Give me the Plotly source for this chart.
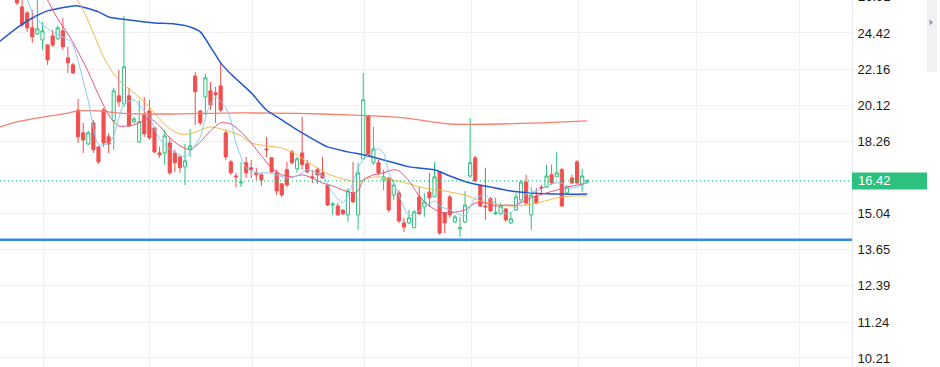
import numpy as np
import plotly.graph_objects as go

# ---------------- data ----------------
opens = [27.26, 26.19, 25.77, 24.76, 24.36, 23.97, 23.65, 24.23, 24.04, 24.56,
         22.84, 22.42, 19.86, 18.68, 18.13, 19.19, 17.99, 19.86, 18.48, 19.29,
         20.63, 20.19, 20.63, 19.24, 18.23, 19.60, 19.81, 18.93, 17.70, 17.70,
         18.18, 17.70, 17.51, 17.05, 17.89, 21.76, 19.81, 20.57, 20.91, 20.80,
         21.19, 18.68, 17.28, 16.64, 16.33, 17.24, 17.01, 16.78, 16.69, 17.89,
         17.47, 16.78, 16.29, 16.92, 17.75, 16.96, 17.70, 17.19, 16.60, 16.92,
         16.78, 16.24, 15.39, 15.35, 15.19, 14.99, 15.90, 14.99, 17.42, 19.55,
         17.24, 17.24, 16.46, 16.55, 15.81, 15.90, 14.67, 14.67, 14.48, 15.73,
         15.31, 15.94, 15.73, 16.82, 15.07, 15.73, 14.71, 14.44, 14.71, 16.64,
         17.47, 16.24, 15.35, 15.65, 15.03, 15.03, 15.23, 14.67, 15.19, 15.60,
         16.37, 14.99, 15.77, 16.15, 16.15, 16.69, 16.60, 16.92, 15.90, 16.55,
         17.28, 16.24, 16.37]
highs = [27.55, 26.68, 25.91, 25.98, 26.90, 25.15, 23.68, 24.63, 24.89, 25.42,
         23.53, 22.54, 20.46, 19.19, 18.78, 19.34, 18.00, 19.97, 18.68, 21.08,
         22.12, 25.56, 21.08, 19.50, 20.41, 20.57, 20.41, 18.95, 17.99, 18.83,
         18.43, 17.85, 17.56, 18.13, 18.88, 22.00, 19.86, 21.88, 21.41, 21.13,
         22.60, 18.83, 17.37, 16.78, 17.28, 17.51, 17.37, 17.01, 16.78, 18.48,
         17.51, 16.92, 16.33, 17.28, 17.85, 17.51, 19.50, 17.37, 16.92, 17.01,
         17.51, 16.25, 15.52, 15.48, 15.20, 16.11, 17.28, 17.24, 21.94, 19.60,
         18.98, 17.37, 16.92, 16.60, 16.46, 16.02, 14.87, 15.19, 15.19, 16.15,
         15.90, 16.78, 17.28, 16.85, 15.11, 15.81, 14.99, 14.91, 15.98, 19.45,
         17.56, 16.25, 17.01, 15.73, 15.69, 15.48, 15.27, 15.11, 15.90, 16.46,
         16.69, 16.15, 16.11, 16.24, 17.15, 17.15, 17.75, 17.01, 16.24, 16.69,
         17.37, 16.96, 16.50]
lows = [26.33, 24.83, 24.49, 23.78, 24.30, 23.33, 22.42, 23.53, 23.97, 23.33,
        21.94, 21.88, 18.18, 17.70, 18.08, 17.70, 17.19, 17.99, 17.70, 17.85,
        20.03, 20.03, 18.98, 19.14, 18.18, 18.48, 18.33, 17.70, 17.47, 17.15,
        16.69, 16.82, 16.78, 16.24, 17.51, 19.08, 19.08, 19.60, 19.86, 19.19,
        19.76, 17.37, 16.69, 16.15, 16.15, 16.55, 16.55, 16.46, 16.20, 17.51,
        16.78, 15.81, 15.73, 16.15, 17.15, 16.78, 16.92, 16.78, 16.33, 16.29,
        16.51, 15.35, 14.99, 14.95, 14.99, 14.71, 15.48, 14.40, 17.40, 17.51,
        17.15, 16.69, 16.02, 15.11, 15.60, 14.67, 14.32, 14.63, 14.48, 14.99,
        14.91, 15.31, 15.73, 14.21, 14.28, 14.87, 14.67, 14.13, 14.67, 16.55,
        16.37, 15.31, 14.79, 15.11, 14.99, 14.99, 14.71, 14.63, 15.15, 15.52,
        15.39, 14.40, 15.43, 15.81, 16.11, 16.24, 16.60, 15.31, 15.85, 16.29,
        16.29, 15.94, 16.33]
closes = [26.47, 24.96, 24.76, 24.17, 24.69, 24.56, 22.72, 23.65, 24.76, 23.53,
          22.54, 21.94, 18.48, 18.33, 18.68, 17.85, 17.28, 18.18, 18.13, 20.91,
          20.30, 22.30, 19.03, 19.39, 19.24, 18.63, 18.43, 17.75, 17.61, 18.53,
          16.78, 17.24, 17.01, 17.33, 18.04, 20.86, 19.19, 21.65, 20.13, 20.69,
          19.86, 17.51, 16.78, 16.60, 16.37, 16.78, 16.92, 16.69, 16.46, 17.85,
          16.82, 15.98, 15.81, 16.24, 17.24, 17.42, 17.15, 16.82, 16.55, 16.69,
          16.55, 15.39, 15.43, 14.99, 15.03, 15.98, 15.52, 16.78, 20.41, 17.56,
          17.89, 16.78, 16.60, 15.19, 16.24, 14.75, 14.51, 14.87, 15.11, 15.03,
          15.52, 15.69, 16.60, 14.28, 14.67, 14.99, 14.91, 14.48, 15.39, 17.24,
          16.42, 15.35, 15.31, 15.15, 15.07, 15.35, 14.79, 14.83, 15.73, 16.37,
          15.48, 15.81, 15.48, 16.11, 16.64, 16.33, 16.78, 15.35, 16.15, 16.33,
          16.33, 16.64, 16.42]
bar_index = list(range(len(closes)))

ma5_idx = [1, 2, 3, 5, 7, 10, 11, 12, 14, 16, 18, 19, 21, 23, 24, 26, 28, 30, 33, 34,
           36, 37, 38, 39, 41, 42, 43, 45, 47, 49, 51, 53, 55, 57, 60, 62, 64, 65, 67,
           68, 69, 71, 72, 73, 75, 76, 77, 79, 82, 83, 85, 87, 88, 89, 90, 92, 93, 95,
           96, 97, 99, 100, 103, 105, 107, 108, 109, 111, 112]
ma5_val = [27.70, 26.75, 25.84, 24.96, 24.49, 23.97, 23.65, 22.66, 20.35, 18.09, 18.15,
           18.53, 20.19, 20.41, 20.13, 19.47, 18.38, 17.89, 17.51, 17.75, 18.48, 19.45,
           20.19, 20.57, 19.97, 19.34, 18.18, 17.01, 16.78, 16.78, 16.69, 16.55, 16.64,
           16.92, 16.64, 15.90, 15.48, 15.77, 17.01, 17.37, 17.61, 17.89, 17.70, 16.82,
           15.81, 15.31, 14.95, 15.15, 15.56, 15.35, 15.19, 14.99, 14.95, 15.31, 15.69,
           15.81, 15.60, 15.31, 15.03, 15.07, 15.60, 15.85, 16.06, 16.29, 16.33, 16.15,
           16.11, 16.24, 16.37]

ma10_idx = [5, 6, 8, 10, 12, 14, 16, 18, 20, 23, 25, 26, 28, 30, 32, 34, 36, 38, 40, 42,
            44, 46, 48, 50, 52, 54, 56, 58, 60, 62, 64, 66, 67, 68, 70, 72, 74, 75, 77,
            79, 81, 83, 85, 88, 90, 92, 94, 96, 98, 100, 102, 104, 106, 108, 110, 112]
ma10_val = [27.55, 26.68, 25.36, 24.36, 23.21, 22.00, 20.69, 19.60, 19.03, 19.08, 19.34,
            19.45, 19.03, 18.43, 18.04, 17.85, 18.23, 18.78, 19.19, 19.13, 18.73, 18.18,
            17.56, 17.01, 16.69, 16.60, 16.69, 16.55, 16.33, 16.20, 16.02, 15.90, 15.98,
            16.46, 16.69, 16.78, 16.92, 16.87, 16.42, 15.77, 15.35, 15.11, 15.07, 15.19,
            15.48, 15.48, 15.35, 15.39, 15.39, 15.60, 15.77, 15.90, 16.02, 16.15, 16.24,
            16.33]

ma20_idx = [11, 13, 15, 17, 19, 21, 23, 25, 26, 28, 30, 32, 34, 36, 38, 40, 42, 44, 46,
            49, 52, 55, 57, 59, 61, 64, 67, 69, 71, 74, 77, 80, 83, 85, 88, 91, 94, 97,
            100, 103, 106, 109, 112]
ma20_val = [27.19, 25.98, 24.42, 22.90, 21.88, 21.25, 20.80, 20.30, 20.03, 19.39, 18.88,
            18.63, 18.63, 18.83, 18.98, 18.88, 18.73, 18.53, 18.18, 18.04, 17.94, 17.61,
            17.28, 17.01, 16.73, 16.51, 16.37, 16.55, 16.60, 16.46, 16.29, 16.11, 16.02,
            15.94, 15.81, 15.56, 15.43, 15.35, 15.39, 15.52, 15.69, 15.77, 15.77]

ma60_idx = [-4, 0, 3, 6, 11, 12, 16, 18, 22, 27, 31, 34, 36, 38, 40, 42, 46, 49, 52, 56,
            61, 65, 68, 72, 77, 82, 85, 89, 93, 97, 101, 107, 112]
ma60_val = [23.72, 24.76, 25.42, 25.91, 26.26, 26.26, 25.84, 25.49, 25.29, 25.09, 25.02,
            24.82, 24.49, 23.53, 22.54, 21.88, 20.80, 19.86, 19.34, 18.68, 17.99, 17.75,
            17.61, 17.37, 17.05, 16.92, 16.64, 16.33, 16.15, 15.98, 15.90, 15.85, 15.85]

ma250_idx = [-4, 0, 10, 12, 16, 20, 30, 40, 50, 60, 70, 76, 85, 95, 103, 112]
ma250_val = [18.93, 19.24, 19.70, 19.81, 19.81, 19.70, 19.65, 19.70, 19.70, 19.65, 19.55,
             19.45, 19.13, 19.13, 19.19, 19.29]

support_level = 14.02
last_price = 16.42
y_ticks = [10.21, 11.24, 12.39, 13.65, 15.04, 18.26, 20.12, 22.16, 24.42]
top_tick = "26.91"
grid_x = [5.11, 25.93, 46.16, 68.16, 89.18, 110.2, 133.37, 153.6]

# ---------------- styling ----------------
RED = "#F14F4F"
GREEN = "#2CC17E"
X_RANGE = [-3.34, 164.0]
Y_RANGE = [np.log10(9.966), np.log10(26.68)]
W, H = 940, 367
PLOT_W = 852
FONT = "Liberation Sans, Arial, sans-serif"

fig = go.Figure()

fig.add_trace(go.Candlestick(
    x=bar_index, open=opens, high=highs, low=lows, close=closes,
    increasing=dict(line=dict(color=GREEN, width=1), fillcolor="#FFFFFF"),
    decreasing=dict(line=dict(color=RED, width=1), fillcolor=RED),
    whiskerwidth=0, showlegend=False, hoverinfo="skip",
))

def ma_line(idx, val, color, width):
    fig.add_trace(go.Scatter(x=idx, y=val, mode="lines",
                             line=dict(color=color, width=width, shape="spline", smoothing=0.6),
                             showlegend=False, hoverinfo="skip"))

ma_line(ma250_idx, ma250_val, "#F67F6E", 1.3)
ma_line(ma60_idx, ma60_val, "#2358CF", 1.5)
ma_line(ma20_idx, ma20_val, "#F4B545", 1.0)
ma_line(ma10_idx, ma10_val, "#E8517C", 1.0)
ma_line(ma5_idx, ma5_val, "#86CBF5", 1.0)

fig.add_trace(go.Scatter(x=X_RANGE, y=[support_level, support_level], mode="lines",
                         line=dict(color="#2E8BE8", width=2.6), showlegend=False, hoverinfo="skip"))
fig.add_trace(go.Scatter(x=X_RANGE, y=[last_price, last_price], mode="lines",
                         line=dict(color=GREEN, width=1.3, dash="1px,3px"), showlegend=False,
                         hoverinfo="skip"))

def ypaper(p):
    return (np.log10(p) - Y_RANGE[0]) / (Y_RANGE[1] - Y_RANGE[0])

yc = ypaper(last_price)
half = 8.5 / H
shapes = [
    dict(type="rect", xref="paper", yref="paper", x0=1.0, x1=927 / PLOT_W,
         y0=yc - half, y1=yc + half, fillcolor=GREEN, line=dict(width=0), layer="above"),
    dict(type="rect", xref="paper", yref="paper", x0=927 / PLOT_W, x1=937 / PLOT_W,
         y0=1 - 72 / H, y1=1, fillcolor="#F1F1F4", line=dict(width=0)),
    dict(type="path", xref="paper", yref="paper",
         path=f"M {929.5 / PLOT_W},{1 - 19.5 / H} L {933 / PLOT_W},{1 - 22.5 / H} L {929.5 / PLOT_W},{1 - 25.5 / H} Z",
         fillcolor="#9A9AA0", line=dict(width=0)),
]

annotations = [
    dict(text=f"{last_price:.2f}", xref="paper", yref="paper", x=856 / PLOT_W, y=yc,
         xanchor="left", yanchor="middle", showarrow=False,
         font=dict(family=FONT, size=13, color="#FFFFFF")),
    dict(text=top_tick, xref="paper", yref="paper", x=856 / PLOT_W, y=1 + 3 / H,
         xanchor="left", yanchor="middle", showarrow=False,
         font=dict(family=FONT, size=13, color="#1A1A1A")),
]

fig.update_layout(
    width=W, height=H,
    margin=dict(l=0, r=W - PLOT_W, t=0, b=0),
    paper_bgcolor="#FFFFFF", plot_bgcolor="#FFFFFF",
    showlegend=False, boxgap=0.12,
    shapes=shapes, annotations=annotations,
    font=dict(family=FONT, size=13, color="#1A1A1A"),
)
fig.update_xaxes(
    range=X_RANGE, tickvals=grid_x, showticklabels=False, ticks="",
    showgrid=True, gridcolor="#F1F1F4", gridwidth=1, zeroline=False,
    rangeslider=dict(visible=False), showline=False, fixedrange=True,
)
fig.update_yaxes(
    type="log", range=Y_RANGE, side="right",
    tickvals=y_ticks, ticktext=[f"{v:.2f}" for v in y_ticks],
    showgrid=True, gridcolor="#F1F1F4", gridwidth=1, zeroline=False,
    showline=True, linecolor="#E9E9EE", linewidth=1,
    ticks="", ticklabelstandoff=2,
    tickfont=dict(family=FONT, size=13, color="#1A1A1A"),
    fixedrange=True,
)

fig.write_html(
    "out.html",
    config={"displayModeBar": False},
    post_script="document.body.style.margin='0';document.body.style.padding='0';document.body.style.overflow='hidden';",
)
